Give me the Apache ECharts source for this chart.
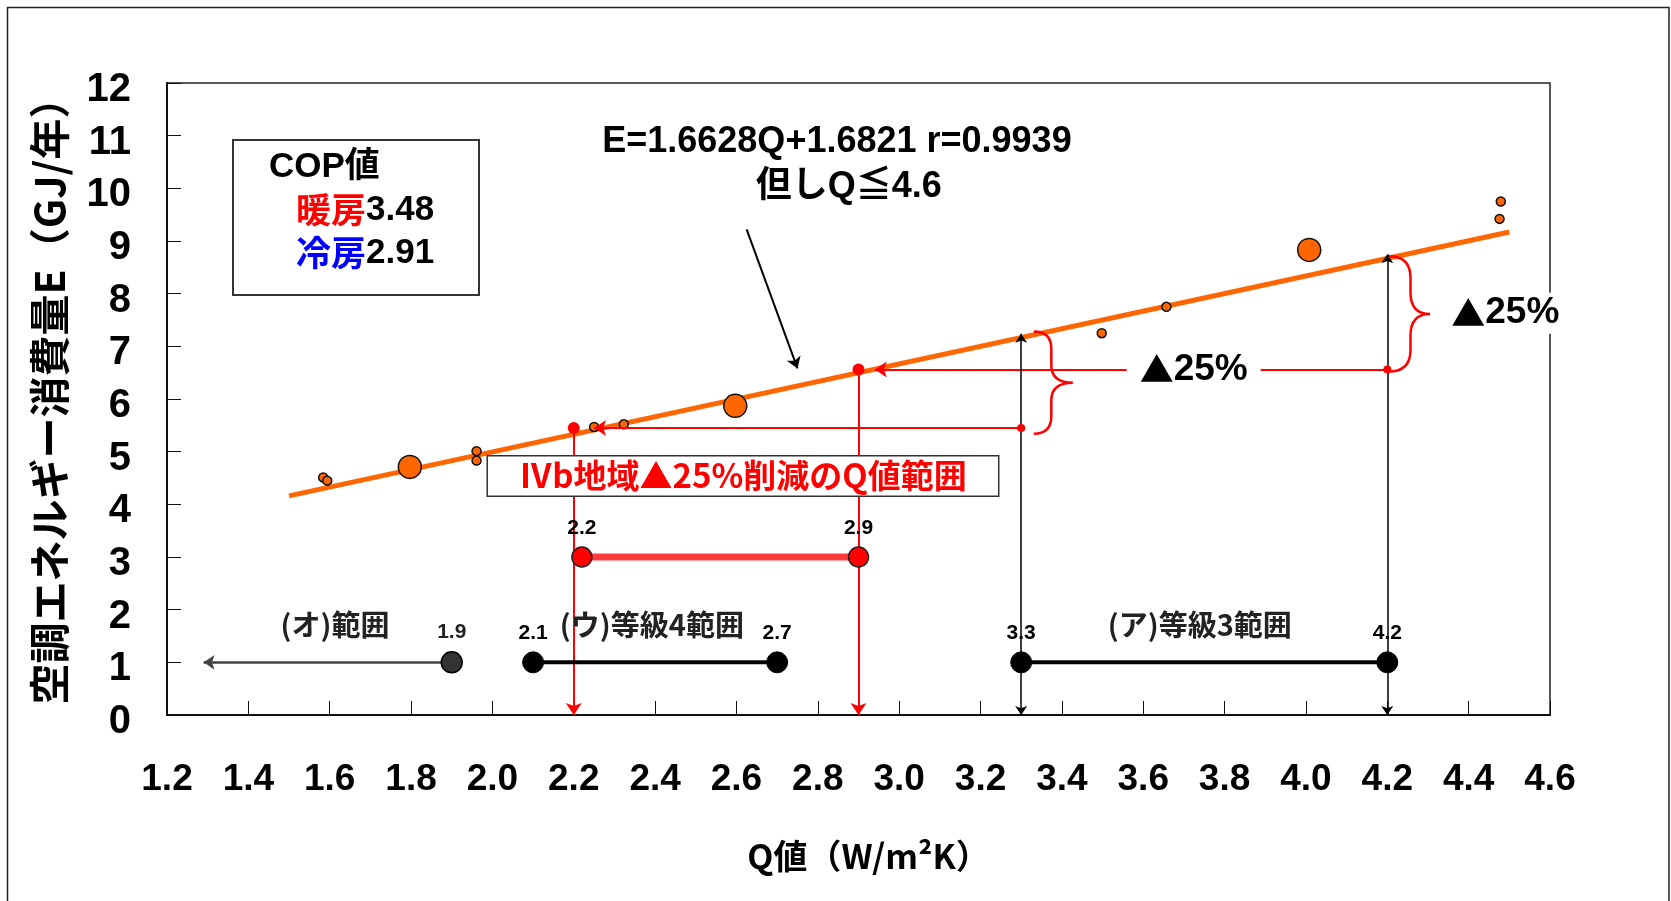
<!DOCTYPE html>
<html><head><meta charset="utf-8">
<script src="https://cdn.jsdelivr.net/npm/echarts@6/dist/echarts.min.js"></script>
<style>html,body{margin:0;padding:0;background:#fff}#c{width:1671px;height:901px}</style>
</head><body><div id="c"></div>
<script>
// ---- data ----
const fitLine = [[1.5, 4.16], [4.5, 9.17]];
const smallPts = [[1.584, 4.51], [1.594, 4.45], [1.961, 5.01], [1.961, 4.83], [2.25, 5.47], [2.323, 5.52], [3.498, 7.25], [3.657, 7.75], [4.476, 9.42], [4.479, 9.75]];
const bigPts = [[1.797, 4.71], [2.597, 5.87], [4.008, 8.83]];
const onLinePts = [[2.2, 5.45], [2.9, 6.56]];
const refPts = [[3.3, 5.45], [4.2, 6.56]];
const targetRange = [[2.22, 3], [2.9, 3]];
const grade4Range = [[2.1, 1], [2.7, 1]];
const grade3Range = [[3.3, 1], [4.2, 1]];
const rangeOPoint = [[1.9, 1]];
const rangeOArrow = [[[1.9, 1], [1.29, 1]]];
const redArrows = [[[2.2, 5.45], [2.2, 0]], [[2.9, 6.56], [2.9, 0]], [[3.3, 5.45], [2.25, 5.45]], [[4.2, 6.56], [2.94, 6.56]]];
const blackArrows = [[[3.3, 0], [3.3, 7.24]], [[4.2, 0], [4.2, 8.75]]];
const eqArrow = [[[2.625, 9.22], [2.75, 6.58]]];
const braces = [[3.331, 3.374, 3.427, 7.28, 5.34], [4.204, 4.257, 4.305, 8.71, 6.52]];
const rangeNames = [['(オ)範囲', 1.613, 1.71], ['(ウ)等級4範囲', 2.392, 1.71], ['(ア)等級3範囲', 3.739, 1.71]];
const pctNotes = [['▲', '25%', 3.724, 6.56], ['▲', '25%', 4.49, 7.63]];
const eqNotes = [['E=1.6628Q+1.6821 r=0.9939', 2.847, 10.88], ['但しQ≦4.6', 2.876, 10.02]];
const boxNote = [['Ⅳb地域▲25%削減のQ値範囲', 2.616, 4.54]];
const copTitle = 'COP値';
const copRows = [['暖房', '3.48'], ['冷房', '2.91']];
const xName = 'Q値（W/m²K）';
const yName = '空調エネルギー消費量E（GJ/年）';

const LAT = '"Liberation Sans", "Noto Sans CJK JP", sans-serif';
const JP = '"Noto Sans CJK JP", sans-serif';

const chart = echarts.init(document.getElementById('c'), null, {renderer: 'canvas'});

function textSeries(items, labelStyle, z) {
  return {
    type: 'scatter', symbolSize: 1, silent: true, z: z || 10,
    itemStyle: {color: 'transparent', opacity: 1},
    data: items.map(t => ({value: [t[1], t[2]], name: t[0]})),
    label: Object.assign({show: true, position: 'inside', textBorderWidth: 0, formatter: p => p.name}, labelStyle)
  };
}

function braceRender(params, api) {
  const top = api.coord([api.value(0), api.value(3)]);
  const mid = api.coord([api.value(1), api.value(3)]);
  const tip = api.coord([api.value(2), api.value(4)]);
  const bot = api.coord([api.value(0), api.value(4)]);
  const L = top[0], M = mid[0], T = tip[0];
  const yt = top[1], yb = bot[1], ym = (yt + yb) / 2;
  const r = M - L, s = Math.min(r, (yb - yt) / 4);
  const d = `M${L},${yt} Q${M},${yt} ${M},${yt + s} L${M},${ym - s} Q${M},${ym} ${T},${ym} Q${M},${ym} ${M},${ym + s} L${M},${yb - s} Q${M},${yb} ${L},${yb}`;
  return {type: 'path', shape: {pathData: d}, style: {stroke: '#ff0000', fill: 'none', lineWidth: 2.5}};
}

const rangeLabel = {show: true, position: 'top', distance: 8, fontFamily: LAT, fontWeight: 'bold', fontSize: 21, color: '#000', formatter: p => p.value[0].toFixed(1)};

const option = {
  animation: false,
  backgroundColor: '#ffffff',
  grid: {left: 167, top: 83, right: 121, bottom: 186, show: true, borderColor: '#222', borderWidth: 1.5, backgroundColor: 'transparent'},
  xAxis: {
    type: 'value', min: 1.2, max: 4.6, interval: 0.2,
    axisLine: {show: true, onZero: false, lineStyle: {color: '#111', width: 2}},
    axisTick: {show: true, inside: true, length: 14, lineStyle: {color: '#111', width: 1}},
    splitLine: {show: false},
    axisLabel: {margin: 46, fontSize: 37, fontWeight: 'bold', fontFamily: LAT, color: '#000', formatter: v => v.toFixed(1)},
    name: xName, nameLocation: 'middle', nameGap: 124,
    nameTextStyle: {fontFamily: JP, fontWeight: 'bold', fontSize: 34, color: '#000', padding: [0, 0, 0, 20]}
  },
  yAxis: {
    type: 'value', min: 0, max: 12, interval: 1,
    axisLine: {show: true, lineStyle: {color: '#111', width: 2}},
    axisTick: {show: true, inside: true, length: 14, lineStyle: {color: '#111', width: 1}},
    splitLine: {show: false},
    axisLabel: {margin: 36, color: '#000', formatter: v => '{a|' + v + '}',
      rich: {a: {fontSize: 40, fontWeight: 'bold', fontFamily: LAT, color: '#000', padding: [14, 0, 0, 0]}}},
    name: yName, nameLocation: 'middle', nameGap: 97, nameRotate: 90,
    nameTextStyle: {fontFamily: JP, fontWeight: 'bold', fontSize: 41, color: '#000', padding: [0, 0, 0, 16]}
  },
  series: [
    {type: 'line', data: fitLine, symbol: 'none', z: 2, silent: true, lineStyle: {color: '#ff6600', width: 5}},
    {type: 'lines', coordinateSystem: 'cartesian2d', z: 4, silent: true, symbol: ['none', 'arrow'], symbolSize: 12,
      lineStyle: {color: '#ff0000', width: 2, opacity: 1, curveness: 0}, data: redArrows.map(c => ({coords: c}))},
    {type: 'lines', coordinateSystem: 'cartesian2d', z: 4, silent: true, symbol: ['arrow', 'arrow'], symbolSize: 9,
      lineStyle: {color: '#000', width: 1.5, opacity: 1, curveness: 0}, data: blackArrows.map(c => ({coords: c}))},
    {type: 'lines', coordinateSystem: 'cartesian2d', z: 4, silent: true, symbol: ['none', 'arrow'], symbolSize: 11,
      lineStyle: {color: '#000', width: 2, opacity: 1, curveness: 0}, data: eqArrow.map(c => ({coords: c}))},
    {type: 'lines', coordinateSystem: 'cartesian2d', z: 4, silent: true, symbol: ['none', 'arrow'], symbolSize: 11,
      lineStyle: {color: '#444', width: 2.5, opacity: 1, curveness: 0}, data: rangeOArrow.map(c => ({coords: c}))},
    {type: 'custom', coordinateSystem: 'cartesian2d', renderItem: braceRender, data: braces, z: 4, silent: true},
    {type: 'scatter', data: smallPts, symbolSize: 9, z: 3, silent: true, itemStyle: {color: '#ff6600', borderColor: '#111', borderWidth: 1.5, opacity: 1}},
    {type: 'scatter', data: bigPts, symbolSize: 23, z: 3, silent: true, itemStyle: {color: '#ff6600', borderColor: '#111', borderWidth: 1.5, opacity: 1}},
    {type: 'scatter', data: onLinePts, symbolSize: 12, z: 5, silent: true, itemStyle: {color: '#ff0000', opacity: 1}},
    {type: 'scatter', data: refPts, symbolSize: 8, z: 5, silent: true, itemStyle: {color: '#ff0000', opacity: 1}},
    {type: 'line', data: targetRange, z: 5, silent: true, symbol: 'circle', symbolSize: 20,
      lineStyle: {color: '#ff3a3a', width: 7}, itemStyle: {color: '#ff0000', borderColor: '#222', borderWidth: 1.5}, label: rangeLabel},
    {type: 'line', data: grade4Range, z: 5, silent: true, symbol: 'circle', symbolSize: 21,
      lineStyle: {color: '#000', width: 4}, itemStyle: {color: '#000', borderColor: '#000', borderWidth: 1}, label: rangeLabel},
    {type: 'line', data: grade3Range, z: 5, silent: true, symbol: 'circle', symbolSize: 21,
      lineStyle: {color: '#000', width: 4}, itemStyle: {color: '#000', borderColor: '#000', borderWidth: 1}, label: rangeLabel},
    {type: 'scatter', data: rangeOPoint, z: 5, silent: true, symbolSize: 21,
      itemStyle: {color: '#333', borderColor: '#000', borderWidth: 1.5, opacity: 1}, label: Object.assign({}, rangeLabel, {color: '#222'})},
    textSeries(rangeNames, {fontFamily: JP, fontWeight: 'bold', fontSize: 29, color: '#222'}),
    {
      type: 'scatter', symbolSize: 1, silent: true, z: 10, itemStyle: {color: 'transparent', opacity: 1},
      data: pctNotes.map(t => ({value: [t[2], t[3]], name: t[0] + '|' + t[1]})),
      label: {show: true, position: 'inside', backgroundColor: '#fff', padding: [2, 13], textBorderWidth: 0,
        formatter: p => { const s = p.name.split('|'); return '{t|' + s[0] + '}{n|' + s[1] + '}'; },
        rich: {t: {fontFamily: JP, fontSize: 34, fontWeight: 'bold', color: '#000', textBorderWidth: 0},
               n: {fontFamily: LAT, fontSize: 37, fontWeight: 'bold', color: '#000', textBorderWidth: 0}}}
    },
    textSeries(eqNotes, {fontFamily: LAT, fontWeight: 'bold', fontSize: 36, color: '#000'}),
    textSeries(boxNote, {fontFamily: JP, fontWeight: 'bold', fontSize: 33, color: '#ff0000', backgroundColor: '#fff',
      borderColor: '#333', borderWidth: 1.5, padding: [3, 30], width: 450, align: 'center'}, 12)
  ],
  graphic: [
    {type: 'rect', z: 100, silent: true, shape: {x: 7.5, y: 7.5, width: 1661.5, height: 905}, style: {fill: 'none', stroke: '#222', lineWidth: 1.5}},
    {type: 'rect', z: 100, silent: true, shape: {x: 233, y: 140, width: 246, height: 155}, style: {fill: '#fff', stroke: '#333', lineWidth: 2}},
    {type: 'text', z: 101, silent: true, x: 269, y: 167, style: {text: copTitle, font: 'bold 35px ' + LAT, fill: '#000', verticalAlign: 'middle'}},
    ...copRows.map((r, i) => ({
      type: 'text', z: 101, silent: true, x: 296, y: 210 + i * 43,
      style: {text: '{k|' + r[0] + '}{v|' + r[1] + '}', verticalAlign: 'middle',
        rich: {k: {fontFamily: JP, fontWeight: 'bold', fontSize: 35, fill: i === 0 ? '#ff0000' : '#0000ff'},
               v: {fontFamily: LAT, fontWeight: 'bold', fontSize: 35, fill: '#000'}}}
    }))
  ]
};
chart.setOption(option);
</script>
</body></html>
